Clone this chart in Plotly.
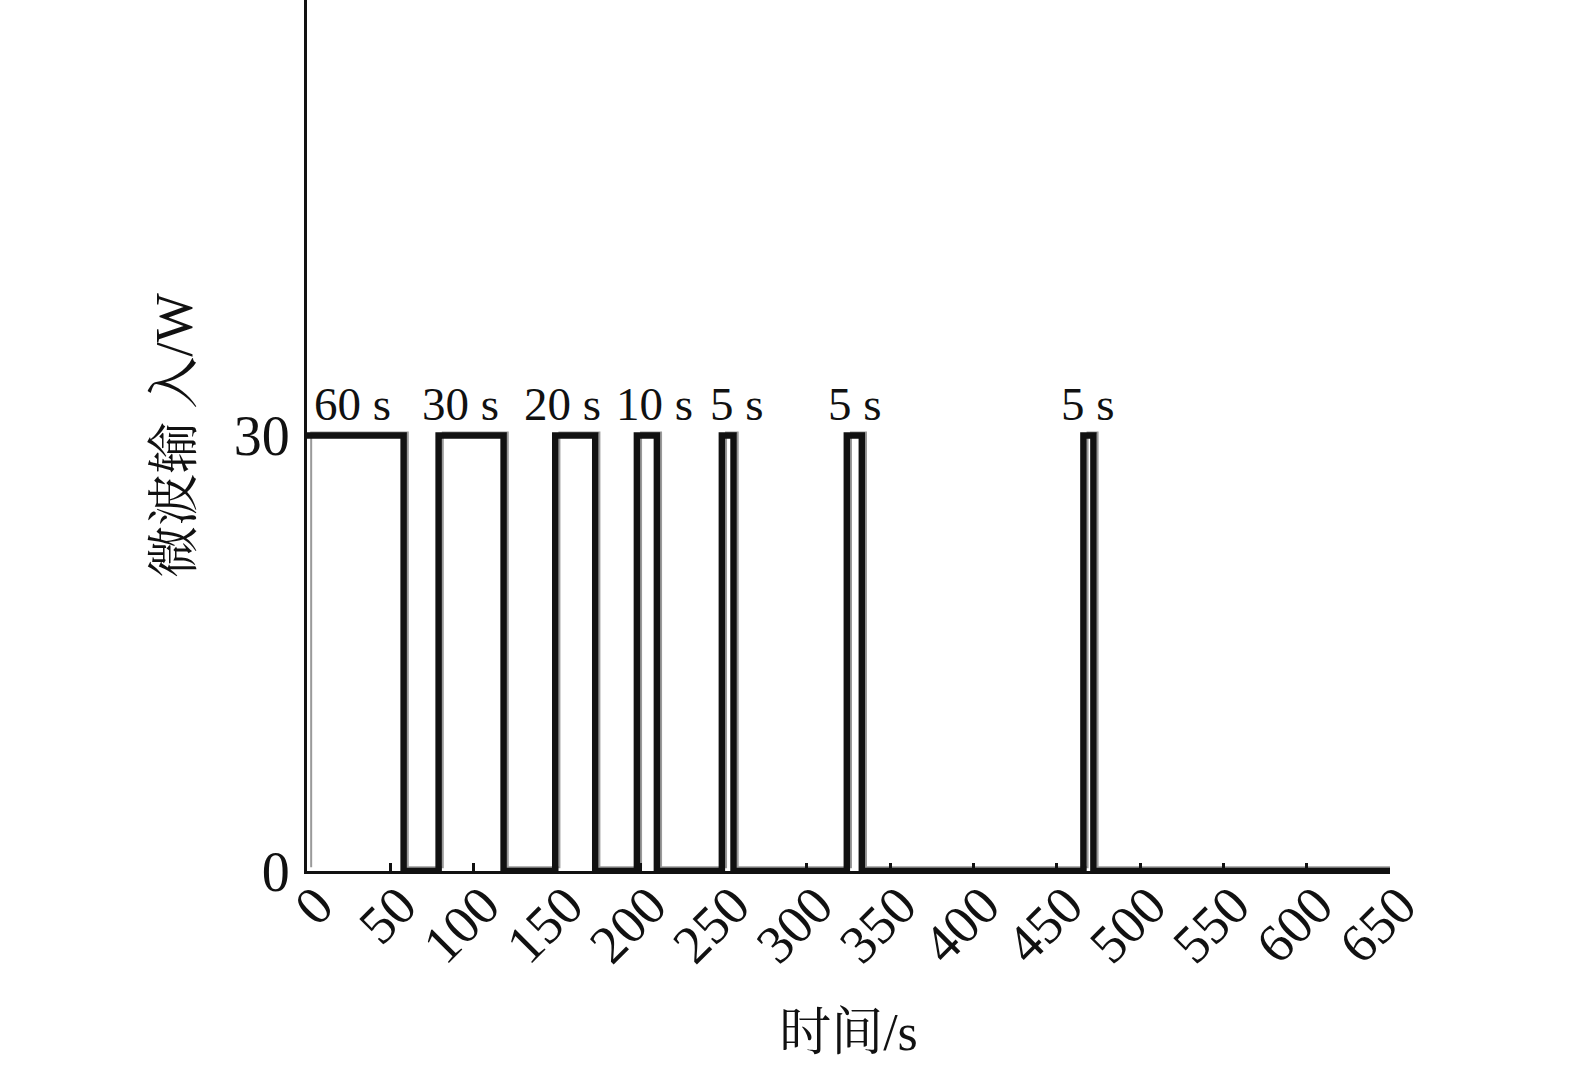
import plotly.graph_objects as go

# ---- data ----
pulse_on = [0, 79, 149, 198, 249, 324, 466]      # s, microwave switched on
pulse_off = [58, 118, 173, 210, 256, 333, 472]   # s, microwave switched off
power_on = 30                                     # W
power_off = 0
t_end = 650

# faint grey (offset) trace visible beside the black one
grey_on = [2.5, 81.5, 151.5, 200.5, 251.5, 326.5, 468.5]
grey_off = [60.5, 120.5, 175.5, 212.5, 258.5, 335.5, 474.5]
grey_high = 30.2
grey_low = 0.25

label_text = ["60 s", "30 s", "20 s", "10 s", "5 s", "5 s", "5 s"]
label_x = [27.6, 92, 153.6, 208.6, 258, 328.6, 468.6]
label_y = 32.2

x_ticks = list(range(0, 651, 50))
y_ticks = [0, 30]


def step_series(ons, offs, hi, lo, end, start_high):
    xs, ys = [], []
    for i, (a, b) in enumerate(zip(ons, offs)):
        if i == 0 and start_high:
            xs += [a, b, b]
            ys += [hi, hi, lo]
        else:
            xs += [a, a, b, b]
            ys += [lo, hi, hi, lo]
    xs.append(end)
    ys.append(lo)
    return xs, ys


gx, gy = step_series(grey_on, grey_off, grey_high, grey_low, t_end, False)
bx, by = step_series(pulse_on, pulse_off, power_on, power_off, t_end, True)

SERIF = "Liberation Serif, Noto Serif CJK SC, Noto Sans CJK SC, serif"

fig = go.Figure()
fig.add_trace(go.Scatter(x=gx, y=gy, mode="lines",
                         line=dict(color="#9a9a9a", width=2),
                         hoverinfo="skip", showlegend=False))
fig.add_trace(go.Scatter(x=bx, y=by, mode="lines",
                         line=dict(color="#111111", width=6.5),
                         showlegend=False))

for t, xv in zip(label_text, label_x):
    fig.add_annotation(x=xv, y=label_y, text=t, showarrow=False,
                       xref="x", yref="y", yanchor="middle",
                       font=dict(family=SERIF, size=47, color="#111111"))

fig.update_layout(
    width=1575, height=1070,
    margin=dict(l=307, r=185, t=0, b=199),
    paper_bgcolor="white", plot_bgcolor="white",
    font=dict(family=SERIF, color="#111111"),
    showlegend=False,
)
fig.update_xaxes(
    range=[0, t_end], tickvals=x_ticks, ticktext=[str(v) for v in x_ticks],
    tickangle=-45, tickfont=dict(family=SERIF, size=54, color="#111111"),
    ticks="inside", ticklen=8, tickwidth=2.5, tickcolor="#111111",
    ticklabelstandoff=-22, ticklabelshift=10,
    showline=True, linecolor="#111111", linewidth=3,
    showgrid=False, zeroline=False, automargin=False,
    title=dict(text="时间/s", font=dict(family=SERIF, size=52, color="#111111"), standoff=40),
)
fig.update_yaxes(
    range=[0, 60], tickvals=y_ticks, ticktext=[str(v) for v in y_ticks],
    tickfont=dict(family=SERIF, size=56, color="#111111"),
    ticks="", ticklabelstandoff=3,
    showline=True, linecolor="#111111", linewidth=3,
    showgrid=False, zeroline=False, automargin=False,
    title=dict(text="微波输 入/W", font=dict(family=SERIF, size=52, color="#111111"), standoff=25),
)

fig.write_html("out.html", config={"displayModeBar": False},
               post_script="document.body.style.margin='0';")
